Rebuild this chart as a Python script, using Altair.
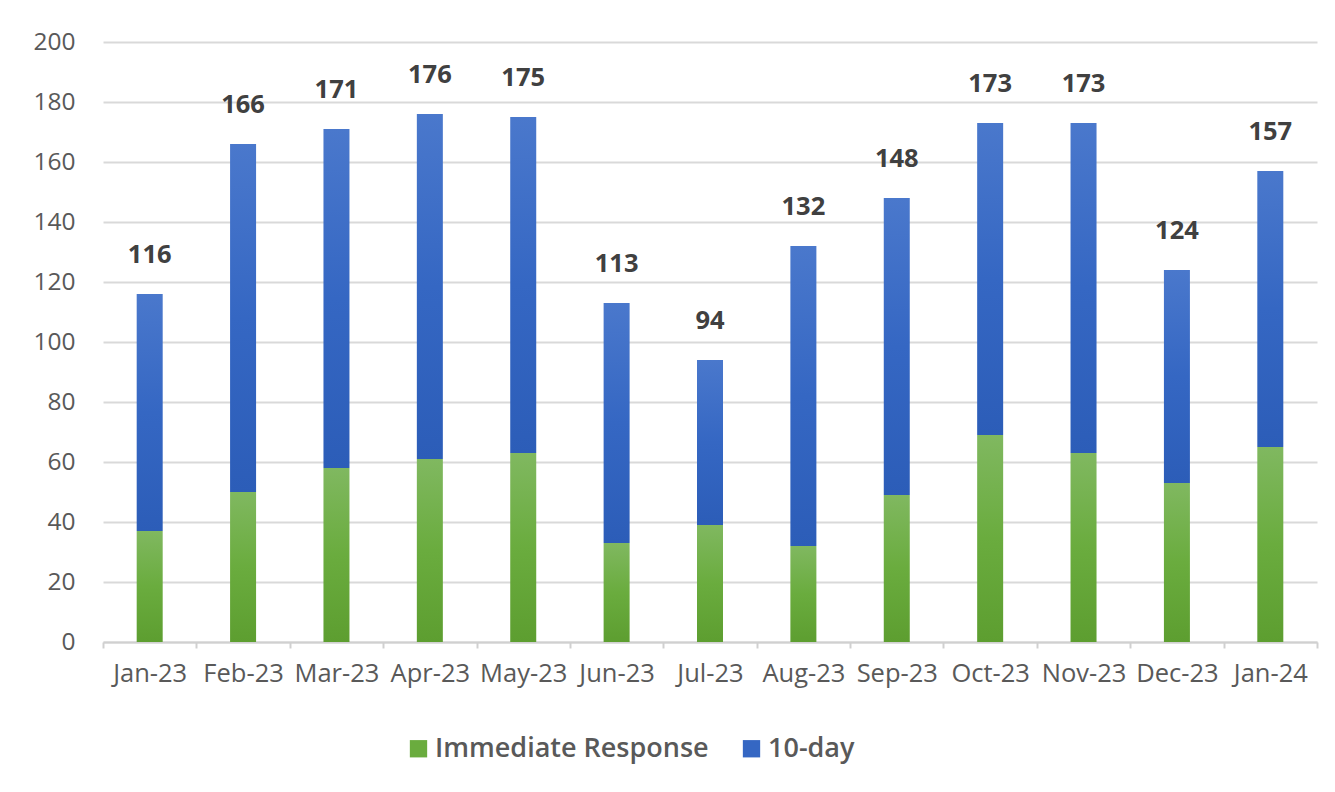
import altair as alt
import pandas as pd

months = ["Jan-23", "Feb-23", "Mar-23", "Apr-23", "May-23", "Jun-23", "Jul-23",
          "Aug-23", "Sep-23", "Oct-23", "Nov-23", "Dec-23", "Jan-24"]
immediate = [37, 50, 58, 61, 63, 33, 39, 32, 49, 69, 63, 53, 65]
totals = [116, 166, 171, 176, 175, 113, 94, 132, 148, 173, 173, 124, 157]
series = ["Immediate Response", "10-day"]

ten_day = [t - i for t, i in zip(totals, immediate)]
df = pd.DataFrame({"month": months, "immediate": immediate, "ten_day": ten_day, "total": totals})
legend_df = pd.DataFrame({"month": months[:2], "series": series, "v": [0, 0]})

FONT = "Open Sans"
xenc = alt.X("month:N", sort=months, title=None,
             scale=alt.Scale(paddingInner=0, paddingOuter=0),
             axis=alt.Axis(labelAngle=0, labelFontSize=25.5, labelColor="#595959",
                           labelFont=FONT, labelPadding=13, tickBand="extent",
                           tickColor="#d0d0d0", tickSize=6, tickWidth=2,
                           domainColor="#d0d0d0", domainWidth=2, grid=False))
yscale = alt.Scale(domain=[0, 200], nice=False)

green_grad = alt.Gradient(gradient="linear",
                          stops=[alt.GradientStop(color="#80b860", offset=0),
                                 alt.GradientStop(color="#6aac3e", offset=0.5),
                                 alt.GradientStop(color="#5d9e30", offset=1)],
                          x1=0, x2=0, y1=0, y2=1)
blue_grad = alt.Gradient(gradient="linear",
                         stops=[alt.GradientStop(color="#4a78cc", offset=0),
                                alt.GradientStop(color="#3567c3", offset=0.5),
                                alt.GradientStop(color="#2c5db8", offset=1)],
                         x1=0, x2=0, y1=0, y2=1)

green = alt.Chart(df).mark_bar(size=26, fill=green_grad).encode(
    x=xenc,
    y=alt.Y("immediate:Q", scale=yscale, title=None,
            axis=alt.Axis(values=list(range(0, 201, 20)), labelFontSize=24.5,
                          labelColor="#595959", labelFont=FONT, labelPadding=28,
                          domain=False, ticks=False, gridColor="#d9d9d9", gridWidth=2)),
)
blue = alt.Chart(df).mark_bar(size=26, fill=blue_grad).encode(
    x=alt.X("month:N", sort=months),
    y=alt.Y("immediate:Q"),
    y2="total:Q",
)
labels = alt.Chart(df).mark_text(dy=-26, baseline="bottom", fontSize=25.5, fontWeight="bold",
                                 color="#404040", font=FONT).encode(
    x=alt.X("month:N", sort=months),
    y=alt.Y("total:Q"),
    text="total:Q",
)
legend_layer = alt.Chart(legend_df).mark_square(opacity=0, size=10).encode(
    x=alt.X("month:N", sort=months),
    y=alt.Y("v:Q"),
    color=alt.Color("series:N", sort=series,
                    scale=alt.Scale(domain=series, range=["#6aac3e", "#3567c3"]),
                    legend=alt.Legend(title=None, orient="none", direction="horizontal",
                                      legendX=302, legendY=693, symbolType="square",
                                      symbolSize=300, symbolOpacity=1, symbolStrokeWidth=0,
                                      labelFontSize=27, labelFontWeight=600, labelLimit=0,
                                      labelColor="#595959", labelFont=FONT,
                                      columnPadding=29, symbolOffset=0, labelOffset=3)),
)

chart = alt.layer(green, blue, labels, legend_layer).properties(
    width=1214, height=600,
    autosize=alt.AutoSizeParams(type="none"),
    padding={"left": 95, "top": 34, "right": 10, "bottom": 140},
    background="white",
).configure_view(stroke=None)

chart.save("out.html", embed_options={"renderer": "svg", "actions": False})
